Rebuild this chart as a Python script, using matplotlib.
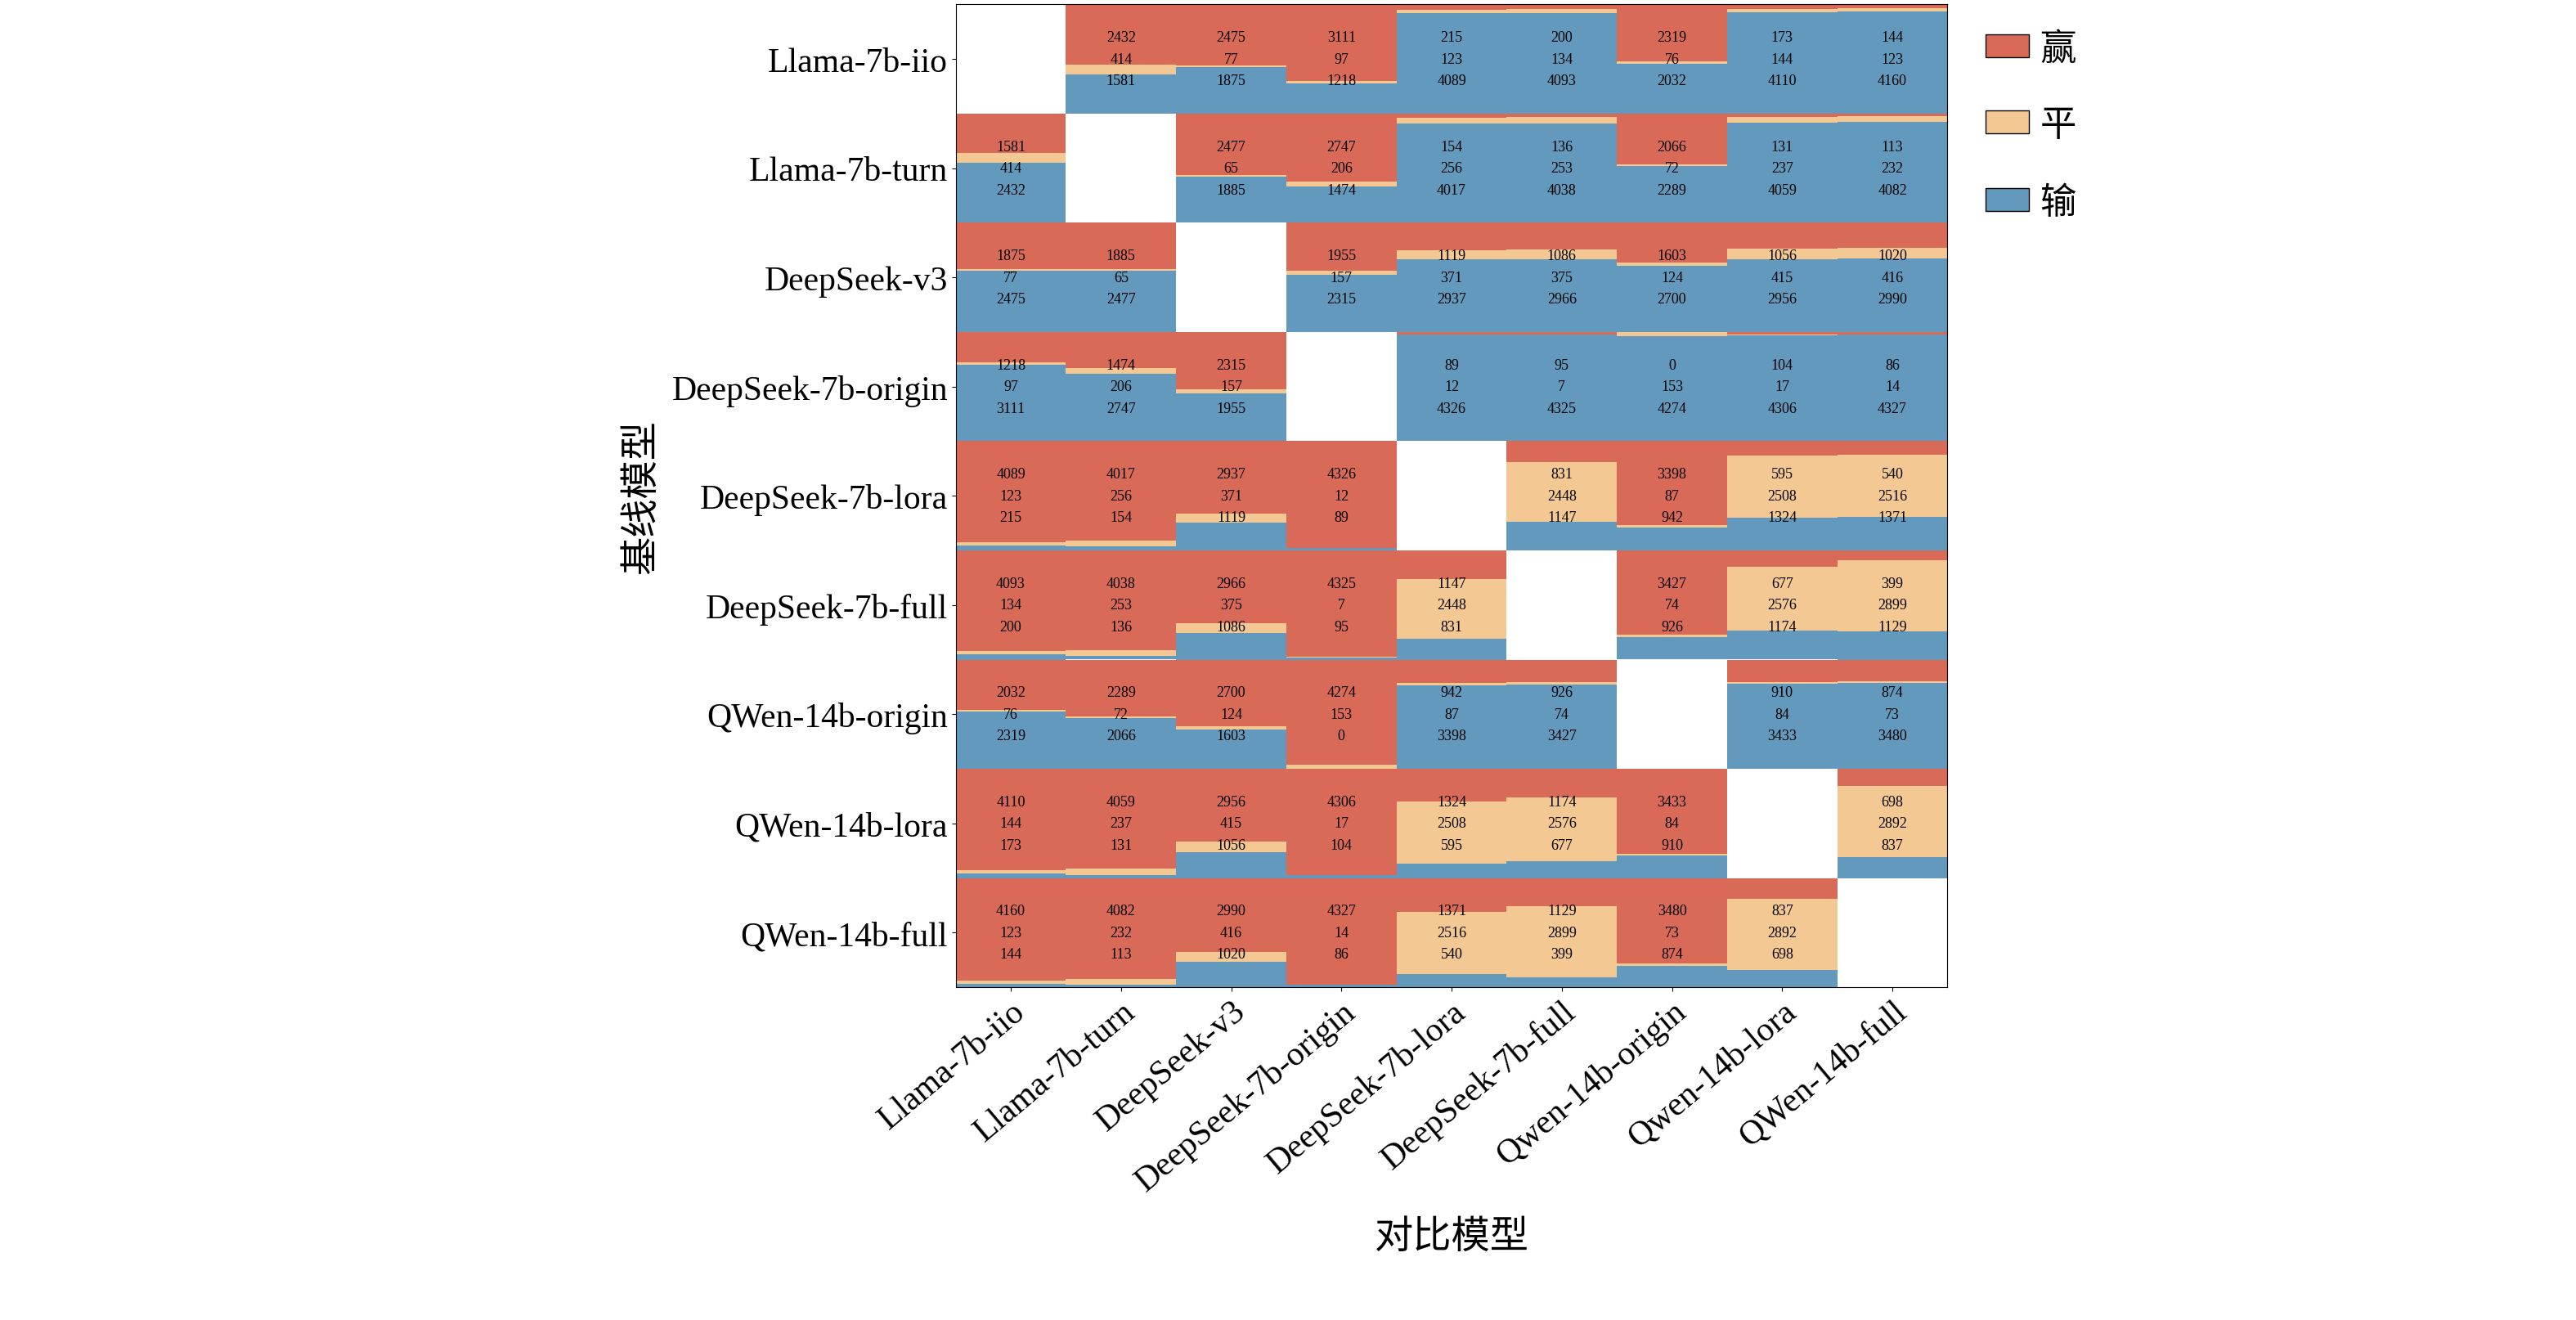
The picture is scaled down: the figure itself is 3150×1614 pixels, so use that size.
import matplotlib
matplotlib.use("Agg")
import matplotlib.pyplot as plt
from matplotlib.patches import Patch

plt.rcParams['font.family'] = ['Liberation Serif', 'Noto Sans CJK SC']

row_models = ["Llama-7b-iio", "Llama-7b-turn", "DeepSeek-v3", "DeepSeek-7b-origin",
              "DeepSeek-7b-lora", "DeepSeek-7b-full", "QWen-14b-origin", "QWen-14b-lora", "QWen-14b-full"]
col_models = ["Llama-7b-iio", "Llama-7b-turn", "DeepSeek-v3", "DeepSeek-7b-origin",
              "DeepSeek-7b-lora", "DeepSeek-7b-full", "Qwen-14b-origin", "Qwen-14b-lora", "QWen-14b-full"]

wins = [
    [None, 2432, 2475, 3111, 215, 200, 2319, 173, 144],
    [1581, None, 2477, 2747, 154, 136, 2066, 131, 113],
    [1875, 1885, None, 1955, 1119, 1086, 1603, 1056, 1020],
    [1218, 1474, 2315, None, 89, 95, 0, 104, 86],
    [4089, 4017, 2937, 4326, None, 831, 3398, 595, 540],
    [4093, 4038, 2966, 4325, 1147, None, 3427, 677, 399],
    [2032, 2289, 2700, 4274, 942, 926, None, 910, 874],
    [4110, 4059, 2956, 4306, 1324, 1174, 3433, None, 698],
    [4160, 4082, 2990, 4327, 1371, 1129, 3480, 837, None],
]
ties = [
    [None, 414, 77, 97, 123, 134, 76, 144, 123],
    [414, None, 65, 206, 256, 253, 72, 237, 232],
    [77, 65, None, 157, 371, 375, 124, 415, 416],
    [97, 206, 157, None, 12, 7, 153, 17, 14],
    [123, 256, 371, 12, None, 2448, 87, 2508, 2516],
    [134, 253, 375, 7, 2448, None, 74, 2576, 2899],
    [76, 72, 124, 153, 87, 74, None, 84, 73],
    [144, 237, 415, 17, 2508, 2576, 84, None, 2892],
    [123, 232, 416, 14, 2516, 2899, 73, 2892, None],
]
losses = [
    [None, 1581, 1875, 1218, 4089, 4093, 2032, 4110, 4160],
    [2432, None, 1885, 1474, 4017, 4038, 2289, 4059, 4082],
    [2475, 2477, None, 2315, 2937, 2966, 2700, 2956, 2990],
    [3111, 2747, 1955, None, 4326, 4325, 4274, 4306, 4327],
    [215, 154, 1119, 89, None, 1147, 942, 1324, 1371],
    [200, 136, 1086, 95, 831, None, 926, 1174, 1129],
    [2319, 2066, 1603, 0, 3398, 3427, None, 3433, 3480],
    [173, 131, 1056, 104, 595, 677, 910, None, 837],
    [144, 113, 1020, 86, 540, 399, 874, 698, None],
]
legend_labels = ["赢", "平", "输"]

c_win, c_tie, c_lose = "#DA6A58", "#F4C892", "#6399BD"

fig = plt.figure(figsize=(31.5, 16.15), dpi=100)
ax = fig.add_axes([0.371, 0.252, 0.385, 0.744])
n = len(row_models)
for i in range(n):
    for j in range(n):
        if wins[i][j] is None:
            continue
        w, t, l = wins[i][j], ties[i][j], losses[i][j]
        tot = w + t + l
        top = i - 0.5
        hw, ht, hl = w / tot, t / tot, l / tot
        ax.bar(j, hw, bottom=top, width=1.0, color=c_win, align='center', linewidth=0)
        ax.bar(j, ht, bottom=top + hw, width=1.0, color=c_tie, linewidth=0)
        ax.bar(j, hl, bottom=top + hw + ht, width=1.0, color=c_lose, linewidth=0)
        for k, v in enumerate((w, t, l)):
            ax.text(j, i - 0.2 + 0.2 * k, str(v), ha='center', va='center', fontsize=13)

ax.set_xlim(-0.5, n - 0.5)
ax.set_ylim(n - 0.5, -0.5)
ax.set_xticks(range(n))
ax.set_xticklabels(col_models, rotation=40, ha='right', rotation_mode='anchor', fontsize=30)
ax.set_yticks(range(n))
ax.set_yticklabels(row_models, fontsize=30)
ax.set_xlabel("对比模型", fontsize=34, labelpad=20)
ax.set_ylabel("基线模型", fontsize=34, labelpad=10)

handles = [Patch(facecolor=c, edgecolor='black', linewidth=1) for c in (c_win, c_tie, c_lose)]
fig.legend(handles, legend_labels, loc='upper left', bbox_to_anchor=(0.758, 1.0),
           frameon=False, fontsize=32, handlelength=1.2, handleheight=0.6,
           labelspacing=1.2, handletextpad=0.3)

fig.savefig("out.png", dpi=100)
